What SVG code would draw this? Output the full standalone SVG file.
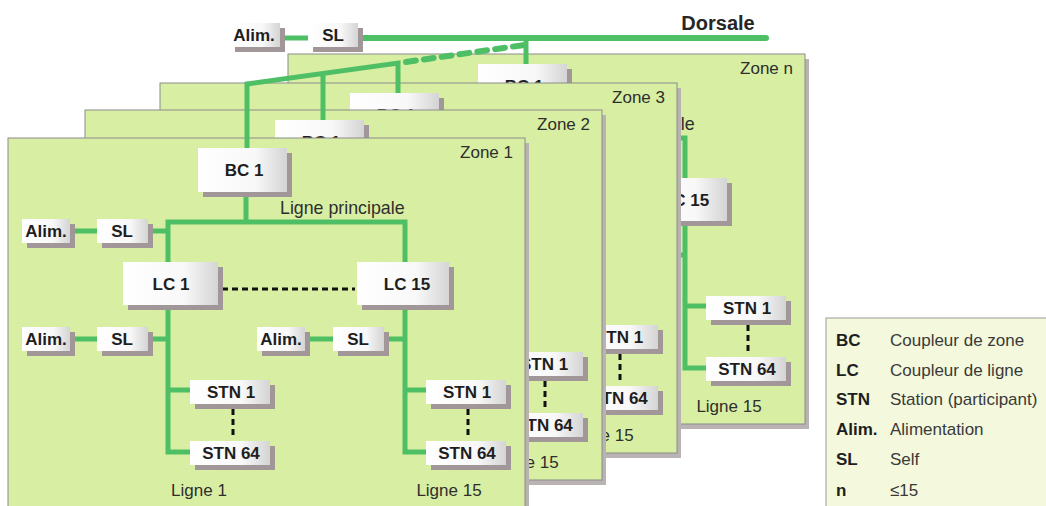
<svg xmlns="http://www.w3.org/2000/svg" width="1046" height="506" viewBox="0 0 1046 506">
<defs>
<linearGradient id="boxg" x1="0" y1="0" x2="1" y2="0">
<stop offset="0" stop-color="#ffffff"/>
<stop offset="0.65" stop-color="#f8f8f8"/>
<stop offset="1" stop-color="#d4d4d4"/>
</linearGradient>
<style>
.panel{fill:#d8eea2;stroke:#8c8c8c;stroke-width:1}
.psh{fill:#b9b3b3}
.box{fill:url(#boxg)}
.sh{fill:#a19698}
.nt{font-family:"Liberation Sans",Arial,sans-serif;font-weight:bold;font-size:17px;fill:#1e1e1e;text-anchor:middle}
.zl{font-family:"Liberation Sans",Arial,sans-serif;font-size:17px;fill:#2e2e2e;text-anchor:end}
.ll{font-family:"Liberation Sans",Arial,sans-serif;font-size:17px;fill:#2e2e2e}
.lp{font-family:"Liberation Sans",Arial,sans-serif;font-size:17.8px;fill:#2e2e2e}
.g{fill:none;stroke:#4fbf65;stroke-width:5}
.gd{fill:none;stroke:#4fbf65;stroke-width:6;stroke-linecap:round;stroke-dasharray:10 8}
.bd{fill:none;stroke:#111;stroke-width:3;stroke-dasharray:6 4}
.lk{font-family:"Liberation Sans",Arial,sans-serif;font-weight:bold;font-size:17px;fill:#1e1e1e}
.lv{font-family:"Liberation Sans",Arial,sans-serif;font-size:17px;fill:#3a3a3a}
</style>
</defs>
<rect width="1046" height="506" fill="#ffffff"/>

<!-- Zone n -->
<g id="zone-n" transform="translate(280,-84)">
<rect class="psh" x="12" y="143" width="517" height="370"/>
<rect class="panel" x="8" y="138" width="517" height="370"/>
<text class="zl" x="513" y="158">Zone n</text>
<text class="lp" x="290" y="214">Ligne principale</text>
<text class="ll" x="449" y="496" text-anchor="middle">Ligne 15</text>
<g id="zn-connectors">
<path class="g" d="M246,192 V222 H405 V262 M405,305 V452 H426 M405,390 H426 M384,339 H405"/>
<path class="bd" d="M468,409 V438"/>
</g>
<g id="zn-bc1"><rect class="sh" x="203" y="153" width="89" height="44"/><rect class="box" x="198" y="148" width="89" height="44"/><text class="nt" x="244" y="176">BC 1</text></g>
<g id="zn-lc15"><rect class="sh" x="362" y="267" width="90" height="43"/><rect class="box" x="357" y="262" width="90" height="43"/><text class="nt" x="406" y="290">LC 15</text></g>
<g id="zn-l15-stn1"><rect class="sh" x="431" y="385" width="80" height="24"/><rect class="box" x="426" y="380" width="80" height="24"/><text class="nt" x="467" y="398">STN 1</text></g>
<g id="zn-l15-stn64"><rect class="sh" x="431" y="446" width="80" height="24"/><rect class="box" x="426" y="441" width="80" height="24"/><text class="nt" x="467" y="459">STN 64</text></g>
</g>

<!-- Zone 3 -->
<g id="zone-3" transform="translate(152,-55)">
<rect class="psh" x="12" y="143" width="517" height="370"/>
<rect class="panel" x="8" y="138" width="517" height="370"/>
<text class="zl" x="513" y="158">Zone 3</text>
<text class="ll" x="449" y="496" text-anchor="middle">Ligne 15</text>
<g id="z3-connectors">
<path class="bd" d="M468,409 V438"/>
</g>
<g id="z3-bc1"><rect class="sh" x="203" y="153" width="89" height="44"/><rect class="box" x="198" y="148" width="89" height="44"/><text class="nt" x="244" y="176">BC 1</text></g>
<g id="z3-l15-stn1"><rect class="sh" x="431" y="385" width="80" height="24"/><rect class="box" x="426" y="380" width="80" height="24"/><text class="nt" x="467" y="398">STN 1</text></g>
<g id="z3-l15-stn64"><rect class="sh" x="431" y="446" width="80" height="24"/><rect class="box" x="426" y="441" width="80" height="24"/><text class="nt" x="467" y="459">STN 64</text></g>
</g>

<!-- Zone 2 -->
<g id="zone-2" transform="translate(77,-28)">
<rect class="psh" x="12" y="143" width="517" height="370"/>
<rect class="panel" x="8" y="138" width="517" height="370"/>
<text class="zl" x="513" y="158">Zone 2</text>
<text class="ll" x="449" y="496" text-anchor="middle">Ligne 15</text>
<g id="z2-connectors">
<path class="bd" d="M468,409 V438"/>
</g>
<g id="z2-bc1"><rect class="sh" x="203" y="153" width="89" height="44"/><rect class="box" x="198" y="148" width="89" height="44"/><text class="nt" x="244" y="176">BC 1</text></g>
<g id="z2-l15-stn1"><rect class="sh" x="431" y="385" width="80" height="24"/><rect class="box" x="426" y="380" width="80" height="24"/><text class="nt" x="467" y="398">STN 1</text></g>
<g id="z2-l15-stn64"><rect class="sh" x="431" y="446" width="80" height="24"/><rect class="box" x="426" y="441" width="80" height="24"/><text class="nt" x="467" y="459">STN 64</text></g>
</g>

<!-- Zone 1 -->
<g id="zone-1">
<rect class="psh" x="12" y="143" width="517" height="370"/>
<rect class="panel" x="8" y="138" width="517" height="370"/>
<text class="zl" x="513" y="158">Zone 1</text>
<text class="lp" x="280" y="214">Ligne principale</text>
<text class="ll" x="199" y="496" text-anchor="middle">Ligne 1</text>
<text class="ll" x="449" y="496" text-anchor="middle">Ligne 15</text>
<g id="z1-connectors">
<path class="g" d="M246,192 V222 M168,262 V222 H405 V262 M70,231 H97 M148,231 H168 M168,305 V452 H190 M168,390 H190 M148,339 H168 M70,339 H97 M405,305 V452 H426 M405,390 H426 M384,339 H405 M305,339 H333"/>
<path class="bd" d="M233,409 V438 M468,409 V438 M222,289 H355"/>
</g>
<g id="z1-bc1"><rect class="sh" x="203" y="153" width="89" height="44"/><rect class="box" x="198" y="148" width="89" height="44"/><text class="nt" x="244" y="176">BC 1</text></g>
<g id="z1-alim0"><rect class="sh" x="27" y="224" width="48" height="24"/><rect class="box" x="22" y="219" width="48" height="24"/><text class="nt" x="46" y="237">Alim.</text></g>
<g id="z1-sl0"><rect class="sh" x="102" y="224" width="51" height="24"/><rect class="box" x="97" y="219" width="51" height="24"/><text class="nt" x="122" y="237">SL</text></g>
<g id="z1-lc1"><rect class="sh" x="128" y="267" width="95" height="43"/><rect class="box" x="123" y="262" width="95" height="43"/><text class="nt" x="171" y="290">LC 1</text></g>
<g id="z1-lc15"><rect class="sh" x="362" y="267" width="92" height="43"/><rect class="box" x="357" y="262" width="92" height="43"/><text class="nt" x="407" y="290">LC 15</text></g>
<g id="z1-alim1"><rect class="sh" x="27" y="332" width="48" height="24"/><rect class="box" x="22" y="327" width="48" height="24"/><text class="nt" x="46" y="345">Alim.</text></g>
<g id="z1-sl1"><rect class="sh" x="102" y="332" width="51" height="24"/><rect class="box" x="97" y="327" width="51" height="24"/><text class="nt" x="122" y="345">SL</text></g>
<g id="z1-alim15"><rect class="sh" x="262" y="332" width="48" height="24"/><rect class="box" x="257" y="327" width="48" height="24"/><text class="nt" x="281" y="345">Alim.</text></g>
<g id="z1-sl15"><rect class="sh" x="338" y="332" width="51" height="24"/><rect class="box" x="333" y="327" width="51" height="24"/><text class="nt" x="358" y="345">SL</text></g>
<g id="z1-l1-stn1"><rect class="sh" x="195" y="385" width="80" height="24"/><rect class="box" x="190" y="380" width="80" height="24"/><text class="nt" x="231" y="398">STN 1</text></g>
<g id="z1-l1-stn64"><rect class="sh" x="195" y="446" width="80" height="24"/><rect class="box" x="190" y="441" width="80" height="24"/><text class="nt" x="231" y="459">STN 64</text></g>
<g id="z1-l15-stn1"><rect class="sh" x="431" y="385" width="80" height="24"/><rect class="box" x="426" y="380" width="80" height="24"/><text class="nt" x="467" y="398">STN 1</text></g>
<g id="z1-l15-stn64"><rect class="sh" x="431" y="446" width="80" height="24"/><rect class="box" x="426" y="441" width="80" height="24"/><text class="nt" x="467" y="459">STN 64</text></g>
</g>

<!-- Backbone connectors -->
<g id="connectors">
<path class="g" d="M280,38 H308"/>
<path class="g" style="stroke-width:6;stroke-linecap:round" d="M358,38 H766"/>
<path class="g" d="M526,38 V64"/>
<path class="g" d="M247,148 V84 L398,63 V93 M323,73 V120"/>
<path class="gd" d="M406,62 L524,45"/>
</g>

<!-- Top nodes -->
<g id="top-alim"><rect class="sh" x="235" y="28" width="50" height="24"/><rect class="box" x="230" y="23" width="50" height="24"/><text class="nt" x="254" y="41">Alim.</text></g>
<g id="top-sl"><rect class="sh" x="313" y="28" width="50" height="24"/><rect class="box" x="308" y="23" width="50" height="24"/><text class="nt" x="333" y="41">SL</text></g>
<text id="dorsale-label" x="718" y="30" text-anchor="middle" style="font-family:'Liberation Sans',Arial,sans-serif;font-weight:bold;font-size:20px;fill:#262626">Dorsale</text>

<!-- Legend -->
<g id="legend">
<rect x="826" y="318" width="230" height="200" fill="#f4f8dc" stroke="#9a9a9a" stroke-width="1"/>
<text class="lk" x="836" y="346">BC</text><text class="lv" x="890" y="346">Coupleur de zone</text>
<text class="lk" x="836" y="376">LC</text><text class="lv" x="890" y="376">Coupleur de ligne</text>
<text class="lk" x="836" y="405">STN</text><text class="lv" x="890" y="405">Station (participant)</text>
<text class="lk" x="836" y="435">Alim.</text><text class="lv" x="890" y="435">Alimentation</text>
<text class="lk" x="836" y="465">SL</text><text class="lv" x="890" y="465">Self</text>
<text class="lk" x="836" y="496">n</text><text class="lv" x="890" y="496">≤15</text>
</g>
</svg>
